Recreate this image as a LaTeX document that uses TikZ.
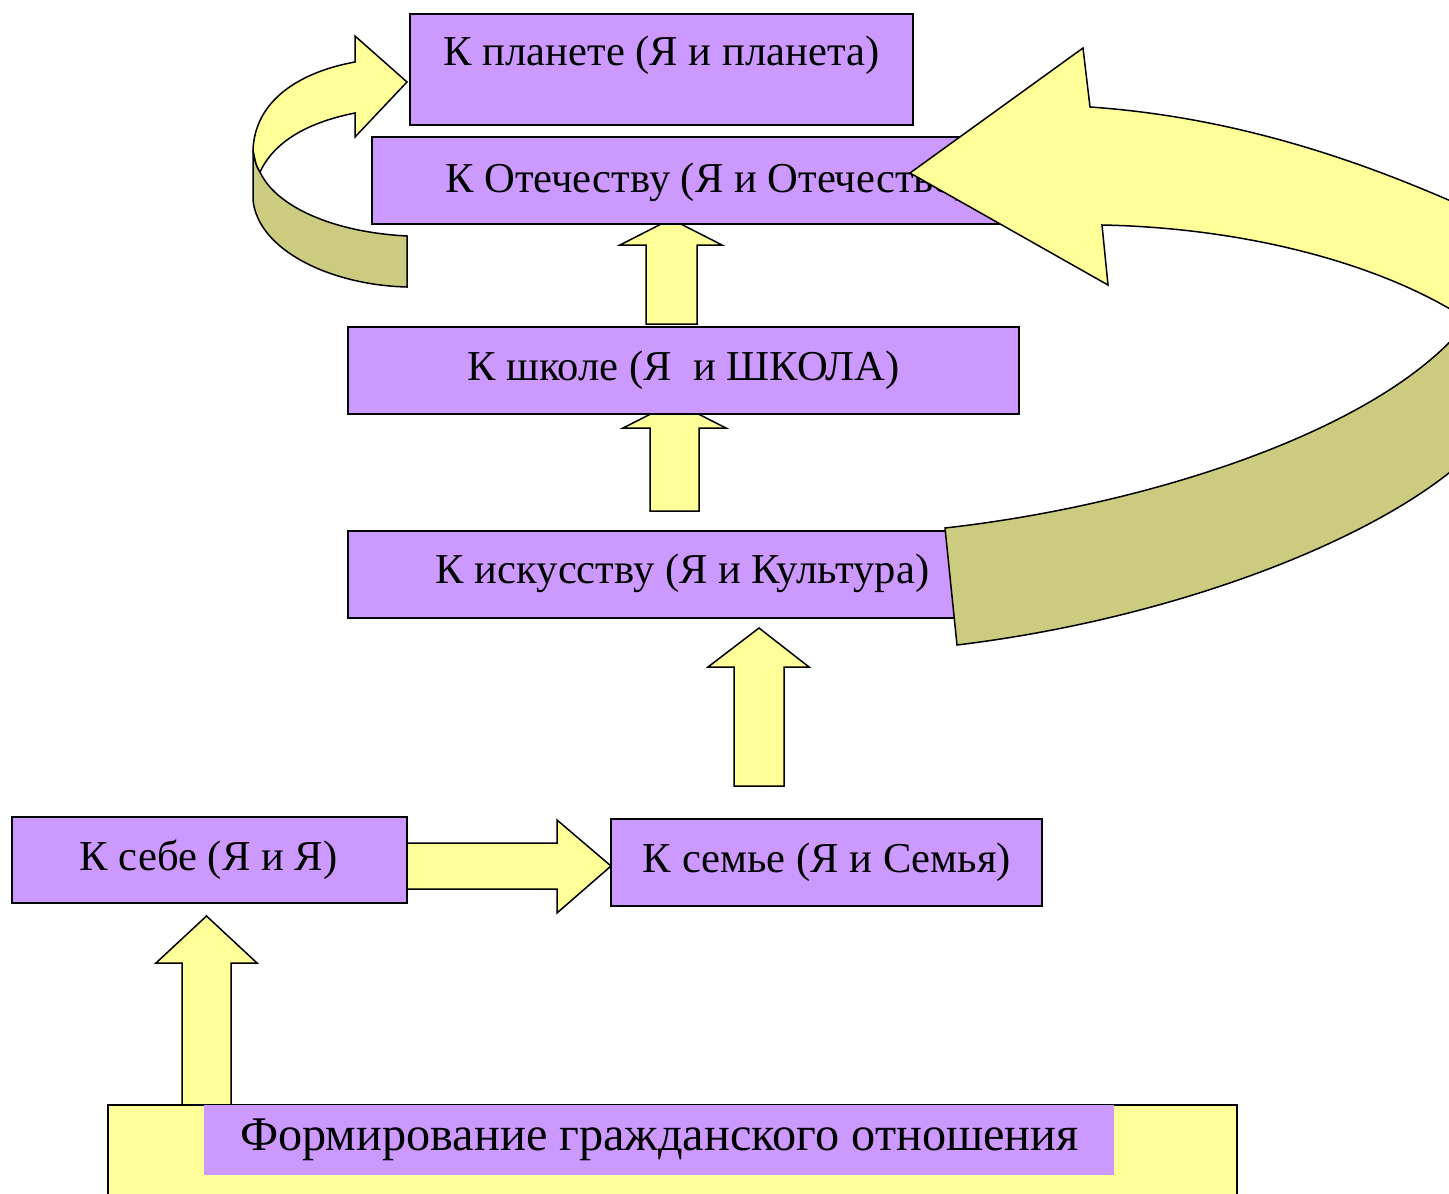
\documentclass[tikz,border=0pt]{standalone}
\usepackage{fontspec}
\setmainfont{Liberation Serif}
\definecolor{boxpurple}{RGB}{204,153,255}
\definecolor{arrowyellow}{RGB}{255,255,153}
\definecolor{arrowolive}{RGB}{204,204,128}
\begin{document}
\begin{tikzpicture}[x=1pt,y=-1pt,
  box/.style={draw=black, line width=1.3pt, fill=boxpurple, inner sep=0pt},
  blk/.style={draw=black, line width=1.5pt, fill=arrowyellow, line join=miter},
  olv/.style={draw=black, line width=1.5pt, fill=arrowolive, line join=miter},
  lbl/.style={font=\fontsize{42.6}{50}\selectfont, inner sep=0pt, anchor=base}]
\useasboundingbox (0,0) rectangle (1449,1194);
\begin{scope}
\clip (0,0) rectangle (1449,1194);
% straight block arrows
\draw[blk] (182,1110) -- (182,963) -- (156,963) -- (206.5,916) -- (257,963) -- (231,963) -- (231,1110) -- cycle;
\draw[blk] (400,843) -- (557,843) -- (557,820) -- (611,866) -- (557,913) -- (557,889) -- (400,889) -- cycle;
\draw[blk] (734,786) -- (734,667) -- (708,667) -- (759,628) -- (809,667) -- (784,667) -- (784,786) -- cycle;
\draw[blk] (650,511) -- (650,428) -- (623,428) -- (674.5,402) -- (726,428) -- (699,428) -- (699,511) -- cycle;
\draw[blk] (646,324) -- (646,245) -- (620,245) -- (671,219) -- (722,245) -- (697,245) -- (697,324) -- cycle;
% boxes
\node[box, minimum width=503, minimum height=111] (planet) at (661.5,69.5) {};
\node[box, minimum width=638, minimum height=87] (otech) at (691,180.5) {};
\node[box, minimum width=671, minimum height=87] (shkola) at (683.5,370.5) {};
\node[box, minimum width=612, minimum height=87] (isk) at (654,574.5) {};
\node[box, minimum width=395, minimum height=86] (sebe) at (209.5,860) {};
\node[box, minimum width=431, minimum height=87] (semya) at (826.5,862.5) {};
\node[draw=black, line width=1.5pt, fill=arrowyellow, minimum width=1129, minimum height=110, inner sep=0pt] (base) at (672.5,1160) {};
\node[fill=boxpurple, minimum width=910, minimum height=70, inner sep=0pt] (basetxt) at (659,1140) {};
% texts
\node[lbl] (tplanet) at (661.5,65) {К планете (Я и планета)};
\node[lbl, anchor=base west] (totech) at (445,192) {К Отечеству (Я и Отечество)};
\node[lbl] (tshk) at (683.5,380) {К школе (Я\ \ и ШКОЛА)};
\node[lbl] (tisk) at (682.5,583) {К искусству (Я и Культура)};
\node[lbl] (tsebe) at (208.5,870) {К себе (Я и Я)};
\node[lbl] (tsem) at (827,872) {К семье (Я и Семья)};
\node[lbl, font=\fontsize{48.3}{56}\selectfont] (tform) at (659.5,1150) {Формирование гражданского отношения};
% big curved arrow: back (olive) part
\draw[olv] (945,528) .. controls (1150,505) and (1380,430) .. (1465,325)
  -- (1475,450) .. controls (1390,535) and (1180,618) .. (957,645) -- cycle;
% big curved arrow: front (yellow) part with head
\draw[blk] (1460,205) .. controls (1380,170) and (1250,118) .. (1090,107)
  -- (1083,48) -- (910,173) -- (1108,285) -- (1102,225)
  .. controls (1250,228) and (1380,265) .. (1460,315) -- cycle;
% small curved arrow: back (olive) part
\draw[olv] (253,150) -- (253,200) .. controls (258,250) and (330,285) .. (407,287)
  -- (407,236) .. controls (330,232) and (275,205) .. (260,172)
  .. controls (256,165) .. (253,150) -- cycle;
% small curved arrow: front (yellow) part with head
\draw[blk] (253,150) .. controls (255,100) and (300,72) .. (355,62)
  -- (355,36) -- (407,82) -- (355,137) -- (355,113)
  .. controls (310,122) and (275,140) .. (260,172)
  .. controls (256,165) .. cycle;
\end{scope}
\end{tikzpicture}
\end{document}
